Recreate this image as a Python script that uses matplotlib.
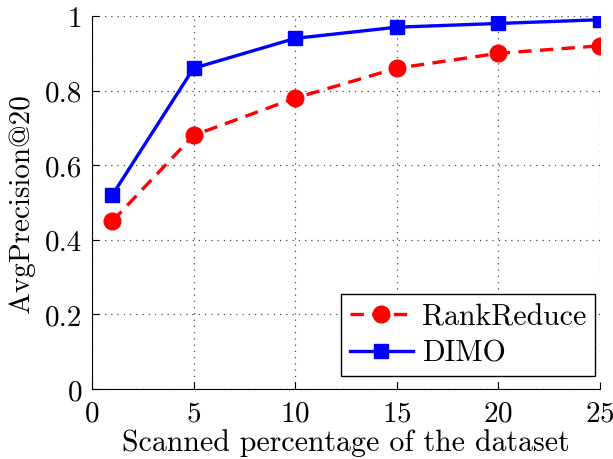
import matplotlib
matplotlib.use("Agg")
import matplotlib.pyplot as plt

# scanned percentage vs. average precision
scanned = [1, 5, 10, 15, 20, 25]
rank_reduce = [0.45, 0.68, 0.78, 0.86, 0.90, 0.92]
dimo = [0.52, 0.86, 0.94, 0.97, 0.98, 0.99]

plt.rcParams['font.family'] = ['cmr10', 'DejaVu Serif']
plt.rcParams['mathtext.fontset'] = 'cm'
plt.rcParams['axes.formatter.use_mathtext'] = True

fig = plt.figure(figsize=(6.13, 4.6), dpi=100)
ax = fig.add_axes([92 / 613, 70 / 460, 508 / 613, 373 / 460])

ax.plot(scanned, rank_reduce, color='#ff0000', linestyle='--', linewidth=2.4,
        marker='o', markersize=12, dashes=(4, 2.5), label='RankReduce')
ax.plot(scanned, dimo, color='#0000ff', linestyle='-', linewidth=2.4,
        marker='s', markersize=10, label='DIMO')

ax.set_xlim(0, 25)
ax.set_ylim(0, 1)
ax.set_xticks([0, 5, 10, 15, 20, 25])
ax.set_yticks([0, 0.2, 0.4, 0.6, 0.8, 1])
ax.set_yticklabels(['0', '0.2', '0.4', '0.6', '0.8', '1'])
ax.grid(True, color='#444444', linestyle=(0, (1, 4)), linewidth=0.9)

ax.spines['top'].set_visible(False)
ax.spines['right'].set_visible(False)
ax.tick_params(direction='in', labelsize=21, length=5, top=False, right=False)
ax.tick_params(axis='x', pad=8)
ax.tick_params(axis='y', pad=7)
ax.set_xlabel('Scanned percentage of the dataset', fontsize=21.5, labelpad=1)
ax.set_ylabel('AvgPrecision@20', fontsize=21, labelpad=7)

leg = ax.legend(loc='lower right', bbox_to_anchor=(0.99, 0.035),
                borderaxespad=0, fontsize=21.5, fancybox=False, framealpha=1,
                edgecolor='black', handlelength=2.1, handletextpad=0.3,
                borderpad=0.3, labelspacing=0.3)
leg.get_frame().set_linewidth(1.0)

fig.savefig('out.png', dpi=100)
